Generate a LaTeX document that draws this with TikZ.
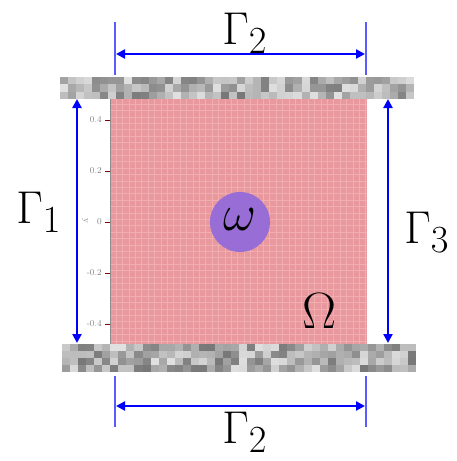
\documentclass[tikz,border=0pt]{standalone}
\usetikzlibrary{arrows.meta, positioning}

\definecolor{domainpink}{RGB}{233,153,158}
\definecolor{gridpink}{RGB}{240,174,177}
\definecolor{holepurple}{RGB}{152,110,214}
\definecolor{dimblue}{RGB}{0,0,255}
\definecolor{ticklineblue}{RGB}{90,90,255}

\tikzset{
  bndarrow/.style={draw=dimblue, line width=2.6pt, {Triangle[length=9pt,width=9pt]}-{Triangle[length=9pt,width=9pt]}},
  extline/.style={draw=ticklineblue, line width=1.3pt},
  bndlabel/.style={font=\Huge, scale=1.85, inner sep=0pt},
  regionlabel/.style={font=\Huge, scale=2.05, inner sep=0pt},
  axislabel/.style={font=\fontsize{9}{10}\selectfont, text=black!50, inner sep=0pt},
  gridline/.style={draw=gridpink, line width=0.4pt}
}

\begin{document}
\begin{tikzpicture}[x=1pt, y=-1pt]
  \useasboundingbox (0,0) rectangle (457,461);

  % domain with grid
  \fill[domainpink] (110,98) rectangle (367,344);
  \foreach \x in {116,122.4,...,366} \draw[gridline] (\x,98) -- (\x,344);
  \foreach \y in {104,110.4,...,343} \draw[gridline] (110,\y) -- (367,\y);
  \draw[black!45, line width=0.8pt] (110,98) -- (110,344);

  % y axis ticks
  \foreach \v/\y in {0.4/120, 0.2/171, 0/222, -0.2/273, -0.4/324} {
    \draw[red!50!black, line width=0.6pt] (105,\y) -- (110,\y);
    \node[axislabel, anchor=east] at (102,\y) {\v};
  }
  \node[axislabel, rotate=-90] at (85,221) {y};

  % inclusion
  \fill[holepurple] (240,222) circle (30);
  \node[regionlabel] (omega) at (240,220) {$\omega$};
  \node[regionlabel] (Omega) at (320,311) {$\Omega$};

  % rough plates
  \pgfmathsetseed{31}
  \foreach \i in {0,...,43}
    \foreach \j in {0,1,2} {
      \pgfmathtruncatemacro\g{12+42*rnd}
      \fill[black!\g] (60+8.05*\i,77+7.4*\j) rectangle ++(8.1,7.5);
    }
  \foreach \i in {0,...,43}
    \foreach \j in {0,...,3} {
      \pgfmathtruncatemacro\g{12+42*rnd}
      \fill[black!\g] (62+8.05*\i,344+7*\j) rectangle ++(8.1,7.1);
    }

  % boundary markers
  \coordinate (topL) at (115,22);   \coordinate (topLb) at (115,75);
  \coordinate (topR) at (366,22);   \coordinate (topRb) at (366,75);
  \coordinate (botL) at (115,376);  \coordinate (botLb) at (115,427);
  \coordinate (botR) at (366,376);  \coordinate (botRb) at (366,427);
  \draw[extline] (topL) -- (topLb);
  \draw[extline] (topR) -- (topRb);
  \draw[extline] (botL) -- (botLb);
  \draw[extline] (botR) -- (botRb);

  \coordinate (g2tA) at (116,54);  \coordinate (g2tB) at (365,54);
  \coordinate (g2bA) at (116,406); \coordinate (g2bB) at (365,406);
  \coordinate (g1A) at (77,99);    \coordinate (g1B) at (77,343);
  \coordinate (g3A) at (388,99);   \coordinate (g3B) at (388,343);
  \draw[bndarrow] (g2tA) -- (g2tB);
  \draw[bndarrow] (g2bA) -- (g2bB);
  \draw[bndarrow] (g1A) -- (g1B);
  \draw[bndarrow] (g3A) -- (g3B);

  \node[bndlabel] (gtop) at (245,33) {$\Gamma_2$};
  \node[bndlabel] (gbot) at (245,432) {$\Gamma_2$};
  \node[bndlabel] (gleft) at (39,212) {$\Gamma_1$};
  \node[bndlabel] (gright) at (427,232) {$\Gamma_3$};
\end{tikzpicture}
\end{document}
